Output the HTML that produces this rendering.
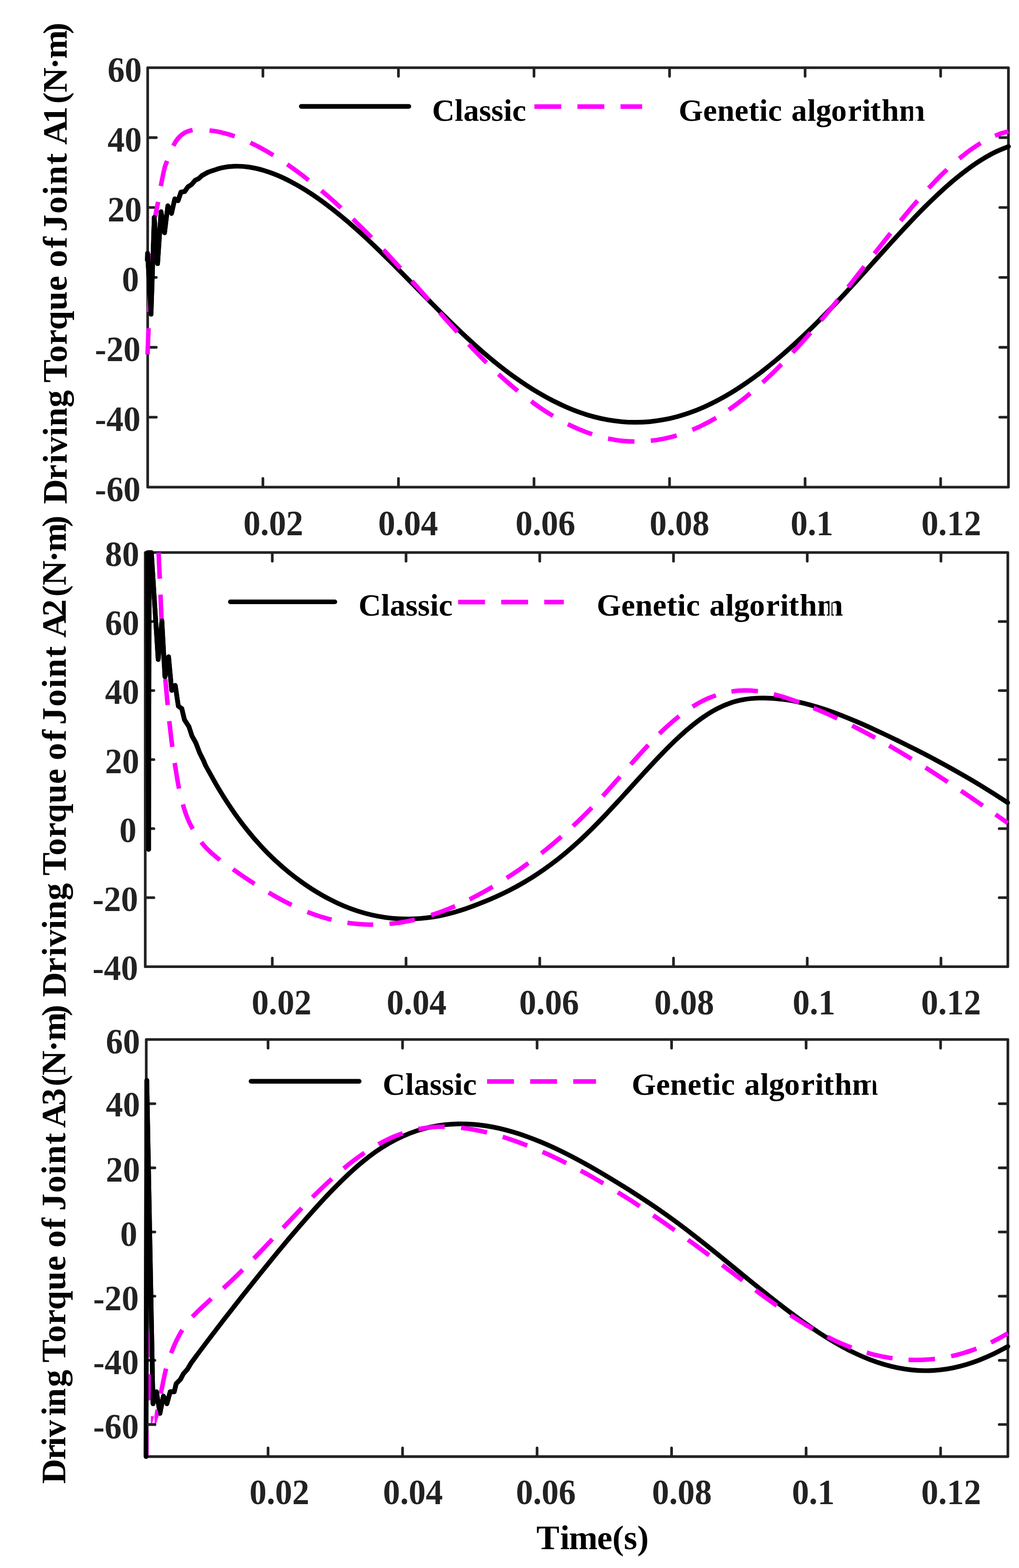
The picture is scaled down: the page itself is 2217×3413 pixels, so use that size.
<!DOCTYPE html>
<html lang="en"><head><meta charset="utf-8"><title>Driving torque of joints A1-A3: Classic vs Genetic algorithm</title>
<style>
html,body{margin:0;padding:0;background:#fff}
svg{display:block}
text{font-family:"Liberation Serif",serif;font-weight:bold}
.tk{font-size:75px;fill:#222222}
.lg{font-size:68px;fill:#000}
.lb{font-size:75px;fill:#000}
.ax{stroke:#222222;stroke-width:5.8;fill:none;stroke-linecap:round;stroke-linejoin:round}
.bk{stroke:#000;stroke-width:10.2;fill:none;stroke-linecap:round;stroke-linejoin:round}
.mg{stroke:#f0f;stroke-width:9.8;fill:none;stroke-linecap:butt;stroke-linejoin:round}
</style></head><body>
<svg width="2217" height="3413" viewBox="0 0 2217 3413">
<rect width="2217" height="3413" fill="#fff"/>
<defs>
<clipPath id="c0"><rect x="314.3" y="140.3" width="1886.7" height="927"/></clipPath>
<clipPath id="g0"><rect x="635.5" y="161.6" width="1464.5" height="120"/></clipPath>
<clipPath id="c1"><rect x="309" y="1195.6" width="1890.7" height="915.6"/></clipPath>
<clipPath id="g1"><rect x="481.2" y="1240" width="1618.8" height="120"/></clipPath>
<clipPath id="c2"><rect x="311.2" y="2255.6" width="1888.6" height="921.9"/></clipPath>
<clipPath id="g2"><rect x="526.2" y="2283.6" width="1573.8" height="120"/></clipPath>
</defs>
<g id="plot1">
<path class="ax" d="M321.3,147.3 H2194 V1060.3 H321.3 ZM572,1060.3 v-18.8 M572,147.3 v18.8M866.9,1060.3 v-18.8 M866.9,147.3 v18.8M1161.8,1060.3 v-18.8 M1161.8,147.3 v18.8M1456.7,1060.3 v-18.8 M1456.7,147.3 v18.8M1751.6,1060.3 v-18.8 M1751.6,147.3 v18.8M2046.5,1060.3 v-18.8 M2046.5,147.3 v18.8M321.3,299.5 h18.8 M2194,299.5 h-18.8M321.3,451.6 h18.8 M2194,451.6 h-18.8M321.3,603.8 h18.8 M2194,603.8 h-18.8M321.3,756 h18.8 M2194,756 h-18.8M321.3,908.1 h18.8 M2194,908.1 h-18.8"/>
<text class="tk" transform="translate(594.5,1164.8) scale(0.992,1.04)" text-anchor="middle">0.02</text>
<text class="tk" transform="translate(887.9,1164.8) scale(0.992,1.04)" text-anchor="middle">0.04</text>
<text class="tk" transform="translate(1186.6,1164.8) scale(0.992,1.04)" text-anchor="middle">0.06</text>
<text class="tk" transform="translate(1478.3,1164.8) scale(0.992,1.04)" text-anchor="middle">0.08</text>
<text class="tk" transform="translate(1766.5,1164.8) scale(0.992,1.04)" text-anchor="middle">0.1</text>
<text class="tk" transform="translate(2069.5,1164.8) scale(0.992,1.04)" text-anchor="middle">0.12</text>
<text class="tk" transform="translate(308.4,177.5) scale(0.992,1.04)" text-anchor="end">60</text>
<text class="tk" transform="translate(308.4,329.7) scale(0.992,1.04)" text-anchor="end">40</text>
<text class="tk" transform="translate(308.4,481.8) scale(0.992,1.04)" text-anchor="end">20</text>
<text class="tk" transform="translate(302.4,634) scale(0.992,1.04)" text-anchor="end">0</text>
<text class="tk" transform="translate(305.8,786.2) scale(0.992,1.04)" text-anchor="end">-20</text>
<text class="tk" transform="translate(305.8,938.3) scale(0.992,1.04)" text-anchor="end">-40</text>
<text class="tk" transform="translate(305.8,1090.5) scale(0.992,1.04)" text-anchor="end">-60</text>
<g clip-path="url(#c0)">
<path class="bk" d="M320.6,566L321,551.3L328.6,684L335.6,473.1L342.9,574L350.4,460.8L358,506.7L365.2,447.9L373.1,464.7L380.3,432.8L387.4,437L393.8,418L401.7,417L409,406.6L417,401.5L424.8,392.3L432,389L439.7,382L452.7,374.8C462.7,371.6 472.5,367.4 482.7,365.2C492.6,363 502.7,362 512.7,361.8C522.8,361.6 532.8,362.4 542.8,363.9C552.9,365.4 562.9,367.8 572.8,370.6C583,373.6 593,377.2 602.8,381.3C613,385.5 623,390.3 632.8,395.4C643.1,400.7 653.1,406.5 662.9,412.6C673.1,418.9 683.1,425.6 692.9,432.5C703.1,439.7 713.1,447.2 722.9,454.9C733.1,462.8 743.1,471.1 752.9,479.4C763.1,488 773.1,496.9 783,505.8C793.1,515 803.1,524.3 813,533.7C823.1,543.3 833.1,553.1 843,562.9C853.1,572.8 863.1,582.8 873,592.9C883.1,603 893.1,613.2 903.1,623.4C913.1,633.5 923,643.8 933.1,653.9C943.1,664 953,674.1 963.1,684.1C973.1,694 983,703.8 993.1,713.5C1003,723.1 1013,732.5 1023.2,741.8C1033,750.9 1043,759.8 1053.2,768.6C1063,777 1073,785.4 1083.2,793.4C1093.1,801.3 1103.1,808.9 1113.2,816.4C1123.1,823.5 1133.1,830.5 1143.3,837.2C1153.1,843.7 1163.1,850 1173.3,855.9C1183.1,861.7 1193.1,867.2 1203.3,872.4C1213.2,877.4 1223.2,882.2 1233.3,886.6C1243.2,890.8 1253.2,894.8 1263.4,898.3C1273.2,901.7 1283.3,904.8 1293.4,907.5C1303.3,910.1 1313.3,912.3 1323.4,914.1C1333.3,915.8 1343.4,917.2 1353.4,918C1363.4,918.9 1373.4,919.3 1383.4,919.2C1393.5,919.2 1403.5,918.7 1413.5,917.8C1423.5,916.8 1433.6,915.4 1443.5,913.6C1453.6,911.8 1463.6,909.5 1473.5,906.8C1483.6,904 1493.7,900.9 1503.5,897.3C1513.7,893.6 1523.7,889.6 1533.6,885.1C1543.7,880.6 1553.8,875.6 1563.6,870.3C1573.8,864.9 1583.8,859.1 1593.6,853.1C1603.8,846.8 1613.8,840.2 1623.6,833.5C1633.8,826.4 1643.8,819.2 1653.7,811.7C1663.8,803.9 1673.8,796 1683.7,787.9C1693.9,779.5 1703.8,770.9 1713.7,762.2C1723.9,753.2 1733.9,744 1743.7,734.8C1753.9,725.2 1763.9,715.6 1773.8,705.8C1783.9,695.8 1793.9,685.6 1803.8,675.4C1813.9,664.9 1823.9,654.4 1833.8,643.7C1843.9,632.9 1853.9,622 1863.8,611.1C1873.9,600 1883.9,588.9 1893.9,577.9C1903.9,566.8 1913.8,555.6 1923.9,544.5C1933.9,533.5 1943.8,522.5 1953.9,511.6C1963.8,500.8 1973.8,490.1 1983.9,479.5C1993.8,469.1 2003.8,458.8 2014,448.7C2023.8,438.9 2033.8,429.3 2044,419.8C2053.8,410.7 2063.8,401.8 2074,393.2C2083.8,384.9 2093.8,376.9 2104,369.3C2113.8,362 2123.8,355 2134.1,348.6C2143.8,342.5 2153.8,336.7 2164.1,331.6C2173.8,326.8 2184.1,323.1 2194.1,318.9"/>
<path class="mg" d="M321,771.4C321.7,752.4 322.5,733.3 323.2,714.3M324.3,679C325,660 325.7,641 326.5,622M328.3,584C328.6,578.7 329,573.3 329.3,568C329.6,562.7 329.7,557.3 330.2,552M337.8,472C339.1,461.1 342,450.4 344,439.5M349.9,405C352.4,391.7 354.9,378.3 358.2,365.1C359.5,360 361.7,355.2 363.6,350.3M377.2,317.3C380.1,311.3 383.6,305.5 388,300.5C392,295.9 396.9,291.8 402.2,288.8C407.4,285.9 413.2,284.3 419,283"/>
<path class="mg" d="M455.9,283.9C460.5,284.5 465.1,285 469.6,285.8C474.2,286.7 478.8,287.6 483.3,288.7C487.9,289.8 492.5,291 497,292.3C501.6,293.6 506.1,295.2 510.7,296.7M544.7,310.6C550.3,313.3 555.9,316 561.4,318.8C567,321.8 572.6,324.8 578.1,328C583.7,331.2 589.2,334.6 594.8,337.9M624.9,357.7C630.1,361.3 635.3,364.9 640.4,368.7C645.7,372.4 650.8,376.3 656,380.2C661.2,384.1 666.3,388.2 671.5,392.2M699.3,414.9C704,418.9 708.8,422.9 713.5,427C718.3,431.2 723.1,435.4 727.8,439.6C732.5,443.9 737.3,448.2 742,452.5M767.8,476.7C772.3,481.1 776.8,485.5 781.3,489.9C785.8,494.3 790.3,498.8 794.8,503.3C799.3,507.8 803.8,512.4 808.3,516.9M834.1,543.7C840.3,550.4 846.5,557 852.7,563.6C858.9,570.3 865.1,577.1 871.3,583.9M896.2,611.7C902.3,618.6 908.4,625.4 914.5,632.3C920.6,639.2 926.7,646.2 932.8,653.1M957,680.5C961.2,685.3 965.4,690 969.6,694.8C973.8,699.5 978,704.2 982.3,708.9C986.5,713.5 990.7,718.1 994.9,722.8M1019.8,749.7C1024.1,754.2 1028.4,758.7 1032.7,763.2C1037,767.7 1041.3,772.1 1045.7,776.5C1050,780.9 1054.3,785.1 1058.6,789.5M1084.5,814.3C1089.2,818.5 1093.8,822.8 1098.5,827C1103.2,831.2 1107.8,835.3 1112.6,839.3C1117.2,843.3 1121.9,847.1 1126.6,851M1155.7,873.6C1161,877.4 1166.2,881.3 1171.5,885C1176.8,888.6 1182,892.1 1187.4,895.6C1192.6,898.9 1197.9,902.1 1203.2,905.4M1235.5,923.2C1239.9,925.3 1244.3,927.5 1248.7,929.5C1253.1,931.5 1257.5,933.5 1261.9,935.3C1266.3,937.1 1270.7,938.9 1275.1,940.5C1279.5,942.2 1283.9,943.6 1288.3,945.2M1322.9,954.6C1327.7,955.5 1332.5,956.5 1337.3,957.3C1342,958.1 1346.8,958.7 1351.7,959.3C1356.4,959.8 1361.2,960.2 1366,960.5C1370.8,960.8 1375.6,960.9 1380.4,961.1M1416,959.4C1420.7,958.8 1425.4,958.3 1430.1,957.5C1434.8,956.8 1439.5,955.9 1444.2,955C1448.9,954 1453.6,952.9 1458.2,951.8C1462.9,950.6 1467.6,949.2 1472.3,947.9M1506.3,935.6C1512,933.1 1517.9,930.6 1523.5,927.9C1529.3,925.1 1535.1,922.2 1540.8,919.2C1546.6,916.1 1552.3,912.7 1558,909.5M1585.5,891.9C1590.7,888.2 1596,884.5 1601.1,880.7C1606.4,876.8 1611.6,872.8 1616.8,868.8C1622,864.6 1627.2,860.3 1632.4,856.1M1659.3,832.6C1663.9,828.3 1668.5,824.1 1673,819.8C1677.6,815.4 1682.2,811 1686.7,806.5C1691.3,802 1695.8,797.4 1700.4,792.8M1724.6,767.5C1728.9,762.8 1733.3,758.1 1737.5,753.4C1741.9,748.7 1746.2,743.9 1750.5,739C1754.8,734.1 1759.1,729.2 1763.4,724.3M1786.1,697.7C1792.3,690.2 1798.5,682.8 1804.7,675.3C1810.9,667.8 1817,660.1 1823.2,652.5M1845.2,625C1851.1,617.5 1857,610.1 1862.8,602.6C1868.7,595.1 1874.6,587.6 1880.5,580.1M1902.5,552.1C1908.3,544.6 1914.1,537.2 1920,529.8C1925.8,522.5 1931.6,515.1 1937.4,507.8M1959.3,480.6C1965.5,473.2 1971.5,465.7 1977.8,458.3C1983.8,451 1990,443.8 1996.2,436.6M2020.5,409.5C2024.9,404.8 2029.3,400 2033.8,395.3C2038.2,390.8 2042.6,386.3 2047.1,381.8C2051.5,377.4 2056,373.2 2060.4,368.9M2087,345.2C2092.2,341.1 2097.3,336.8 2102.5,332.8C2107.6,328.9 2112.8,325.1 2118.1,321.5C2123.2,318.1 2128.4,314.9 2133.6,311.5M2164.8,295.5C2169.7,293.7 2174.5,291.7 2179.4,290C2184.3,288.4 2189.2,287.3 2194.1,285.9"/>
<path class="bk" d="M320.6,566L321,551.3L328.6,684L335.6,473.1L342.9,574L350.4,460.8L358,506.7L365.2,447.9L373.1,464.7L380.3,432.8L387.4,437L393.8,418L401.7,417L409,406.6L417,401.5L424.8,392.3L432,389L439.7,382L452.7,374.8"/>
</g>
<path class="bk" style="stroke-width:10.2" d="M655.5,231.6 H889.5"/>
<path class="mg" style="stroke-width:10" stroke-dasharray="58.5 35.2" d="M1162.6,232 H1397"/>
<g clip-path="url(#g0)">
<text class="lg" x="940 989.19 1008.2 1042.3 1068.85 1095.42 1114.41" y="262.6">Classic</text>
<text class="lg" x="1476.5 1529.69 1560.16 1598.29 1628.76 1651.72 1670.91 1699.28 1721.68 1756.38 1774.97 1808.37 1844.57 1875.46 1893.85 1917.99 1955.92" y="262.6">Genetic algorithm</text>
</g>
<rect x="1986.4" y="226.6" width="5.4" height="40" fill="#fff"/>
<text class="lb" transform="translate(144.5,1097) rotate(-90)" x="0 52.49 88.1 109.27 147.1 168.28 210.31 245.83 264.22 308.04 346.22 378.84 421.24 463.62 492.52 515.27 556.77 573.73 592.48 632.08 671.68 694.63 738.43 755.02 781.92 828.08 871.38 895.87 946.32 969.14 1022.81" y="0">Driving Torque of Joint A1(N·m)</text>
</g>
<g id="plot2">
<path class="ax" d="M316,1202.6 H2192.7 V2104.2 H316 ZM592.4,2104.2 v-18.8 M592.4,1202.6 v18.8M883.4,2104.2 v-18.8 M883.4,1202.6 v18.8M1174.3,2104.2 v-18.8 M1174.3,1202.6 v18.8M1465.3,2104.2 v-18.8 M1465.3,1202.6 v18.8M1756.3,2104.2 v-18.8 M1756.3,1202.6 v18.8M2047.2,2104.2 v-18.8 M2047.2,1202.6 v18.8M316,1352.9 h18.8 M2192.7,1352.9 h-18.8M316,1503.1 h18.8 M2192.7,1503.1 h-18.8M316,1653.4 h18.8 M2192.7,1653.4 h-18.8M316,1803.7 h18.8 M2192.7,1803.7 h-18.8M316,1953.9 h18.8 M2192.7,1953.9 h-18.8"/>
<text class="tk" transform="translate(612.5,2207.5) scale(0.992,1.04)" text-anchor="middle">0.02</text>
<text class="tk" transform="translate(906.4,2207.5) scale(0.992,1.04)" text-anchor="middle">0.04</text>
<text class="tk" transform="translate(1194.7,2207.5) scale(0.992,1.04)" text-anchor="middle">0.06</text>
<text class="tk" transform="translate(1488.6,2207.5) scale(0.992,1.04)" text-anchor="middle">0.08</text>
<text class="tk" transform="translate(1770.9,2207.5) scale(0.992,1.04)" text-anchor="middle">0.1</text>
<text class="tk" transform="translate(2069.1,2207.5) scale(0.992,1.04)" text-anchor="middle">0.12</text>
<text class="tk" transform="translate(303,1231.8) scale(0.992,1.04)" text-anchor="end">80</text>
<text class="tk" transform="translate(303,1382.1) scale(0.992,1.04)" text-anchor="end">60</text>
<text class="tk" transform="translate(303,1532.3) scale(0.992,1.04)" text-anchor="end">40</text>
<text class="tk" transform="translate(303,1682.6) scale(0.992,1.04)" text-anchor="end">20</text>
<text class="tk" transform="translate(297,1832.9) scale(0.992,1.04)" text-anchor="end">0</text>
<text class="tk" transform="translate(300.4,1983.1) scale(0.992,1.04)" text-anchor="end">-20</text>
<text class="tk" transform="translate(300.4,2133.4) scale(0.992,1.04)" text-anchor="end">-40</text>
<g clip-path="url(#c1)">
<path class="bk" d="M321.3,1202.8L323.3,1849L324.6,1202.8L329.4,1202.8L344.1,1435.5L352.2,1351.4L358.9,1473.3L366.8,1429.6L373.5,1502.7L381.3,1491.8L388,1537.1L395.5,1542.2L401.3,1566.6L411,1581.5L417.7,1602L426.1,1617.1L434.5,1639L442.9,1655.8L447.1,1665.9C457.1,1683.7 466.7,1701.8 477.2,1719.2C486.7,1735.1 496.8,1750.6 507.3,1765.8C516.8,1779.7 526.9,1793.2 537.4,1806.3C547,1818.4 557,1830.1 567.5,1841.4C577.1,1851.9 587.2,1862 597.6,1871.8C607.3,1880.9 617.3,1889.6 627.7,1898.1C637.4,1906.1 647.5,1913.7 657.8,1921C667.5,1928 677.6,1934.6 687.8,1940.9C697.7,1946.9 707.7,1952.6 717.9,1957.8C727.8,1962.9 737.8,1967.6 748,1971.9C757.9,1976 767.9,1979.7 778.1,1983C788,1986.2 798.1,1989 808.2,1991.4C818.2,1993.7 828.2,1995.5 838.3,1997C848.3,1998.4 858.3,1999.3 868.4,1999.9C878.4,2000.4 888.5,2000.4 898.5,2000.1C908.6,1999.7 918.6,1998.9 928.6,1997.7C938.7,1996.5 948.7,1994.9 958.7,1992.9C968.8,1990.8 978.8,1988.4 988.8,1985.6C998.9,1982.7 1008.9,1979.5 1018.9,1976C1029,1972.5 1039,1968.6 1049,1964.6C1059.1,1960.6 1069.1,1956.3 1079.1,1951.8C1089.2,1947.3 1099.3,1942.6 1109.1,1937.5C1119.3,1932.3 1129.4,1926.8 1139.2,1921C1149.4,1915 1159.5,1908.8 1169.3,1902.2C1179.6,1895.4 1189.6,1888.4 1199.4,1881C1209.7,1873.4 1219.7,1865.5 1229.5,1857.3C1239.8,1848.8 1249.8,1840 1259.6,1831C1269.9,1821.6 1279.8,1811.9 1289.7,1802.1C1299.9,1791.9 1309.9,1781.5 1319.8,1771C1329.9,1760.3 1339.9,1749.4 1349.9,1738.6C1360,1727.6 1369.9,1716.5 1380,1705.5C1390,1694.5 1400,1683.4 1410.1,1672.5C1420,1661.8 1430,1651 1440.2,1640.6C1450,1630.4 1460,1620.3 1470.3,1610.6C1480,1601.4 1490,1592.3 1500.4,1583.7C1510.1,1575.7 1520,1567.9 1530.5,1560.7C1540.1,1554.1 1550.1,1547.9 1560.5,1542.5C1570.2,1537.5 1580.3,1533.1 1590.6,1529.6C1600.4,1526.3 1610.6,1524 1620.7,1522.3C1630.7,1520.6 1640.8,1519.9 1650.8,1519.5C1660.9,1519.1 1670.9,1519.4 1680.9,1520.1C1691,1520.7 1701,1521.9 1711,1523.3C1721.1,1524.8 1731.1,1526.8 1741.1,1529C1751.2,1531.2 1761.2,1533.9 1771.2,1536.8C1781.3,1539.7 1791.3,1542.9 1801.3,1546.3C1811.4,1549.8 1821.4,1553.5 1831.4,1557.4C1841.5,1561.4 1851.5,1565.5 1861.5,1569.8C1871.6,1574.1 1881.6,1578.5 1891.6,1583C1901.6,1587.6 1911.7,1592.3 1921.7,1597C1931.7,1601.7 1941.8,1606.5 1951.8,1611.4C1961.8,1616.3 1971.9,1621.2 1981.8,1626.3C1991.9,1631.3 2001.9,1636.4 2011.9,1641.6C2022,1646.8 2032,1652.1 2042,1657.5C2052.1,1662.9 2062.1,1668.4 2072.1,1674C2082.2,1679.7 2092.2,1685.4 2102.2,1691.2C2112.3,1697 2122.3,1703 2132.3,1709C2142.4,1715.2 2152.4,1721.4 2162.4,1727.7C2172.5,1734.1 2182.5,1740.6 2192.5,1747.1"/>
<path class="mg" d="M345.1,1202.7C345.9,1221.7 346.7,1240.8 347.6,1259.8M349.2,1294.3C350,1313.2 350.8,1332.1 351.6,1351M353.2,1387C354.2,1405.7 355.2,1424.3 356.5,1443M359.7,1478.3C361.4,1497.1 363,1515.8 364.8,1534.6M368.3,1569.6C370.4,1588.4 372.5,1607.2 374.9,1625.9M380.1,1660.8C383.1,1679.4 385.8,1698.1 389.5,1716.6M397.9,1750.8C400.7,1760.7 403.8,1770.6 407.6,1780.2C410.9,1788.6 414.9,1796.7 419.4,1804.5M437.9,1833.1C443.4,1840.4 449.8,1847 456.4,1853.3C463.3,1860 471.1,1865.8 478.4,1872"/>
<path class="mg" d="M506.9,1892C512.1,1895.7 517.3,1899.4 522.5,1903C527.7,1906.6 532.9,1910.1 538.2,1913.6C543.3,1917 548.6,1920.4 553.8,1923.8M584.5,1942.8C590.1,1946 595.6,1949.3 601.2,1952.4C606.7,1955.5 612.3,1958.5 617.9,1961.5C623.4,1964.4 629,1967.1 634.6,1969.9M668.6,1985C673,1986.6 677.4,1988.3 681.8,1989.9C686.1,1991.5 690.5,1993 695,1994.4C699.3,1995.8 703.7,1997.1 708.1,1998.3C712.5,1999.6 716.9,2000.6 721.3,2001.8M755.9,2008.6C760.6,2009.2 765.2,2009.9 769.9,2010.4C774.6,2010.9 779.2,2011.3 783.9,2011.7C788.6,2012 793.2,2012.3 797.9,2012.4C802.6,2012.6 807.2,2012.6 811.9,2012.6M847.4,2010.9C852,2010.4 856.6,2010 861.1,2009.4C865.7,2008.8 870.3,2008.1 874.9,2007.3C879.5,2006.6 884.1,2005.8 888.6,2004.8C893.2,2003.9 897.8,2002.9 902.4,2001.9M938,1992C943.8,1990.1 949.6,1988.2 955.4,1986.2C961.2,1984.1 967,1981.9 972.7,1979.6C978.6,1977.3 984.3,1974.8 990.1,1972.4M1021.5,1957.7C1027.1,1954.8 1032.8,1952 1038.3,1949C1044,1946 1049.6,1943 1055.2,1939.8C1060.8,1936.6 1066.4,1933.3 1072,1930.1M1102.4,1911.2C1107.6,1907.7 1112.9,1904.3 1118.1,1900.8C1123.4,1897.2 1128.7,1893.6 1133.9,1889.9C1139.1,1886.2 1144.4,1882.4 1149.6,1878.6M1177.7,1857.3C1182.6,1853.4 1187.4,1849.6 1192.3,1845.7C1197.2,1841.7 1202,1837.6 1206.8,1833.6C1211.7,1829.4 1216.5,1825.2 1221.4,1821M1246.6,1798.2C1251.2,1793.9 1255.8,1789.6 1260.3,1785.2C1264.9,1780.8 1269.5,1776.3 1274,1771.8C1278.6,1767.2 1283.1,1762.6 1287.7,1757.9M1311.3,1732.9C1315.5,1728.3 1319.7,1723.7 1323.9,1719C1328.1,1714.3 1332.3,1709.6 1336.5,1704.8C1340.7,1700.1 1344.9,1695.3 1349.1,1690.5M1372.4,1663.8C1376.6,1659 1380.9,1654.2 1385.1,1649.4C1389.4,1644.7 1393.6,1640 1397.9,1635.3C1402.1,1630.7 1406.4,1626.2 1410.6,1621.6M1434.7,1597C1439.5,1592.4 1444.2,1587.8 1449,1583.4C1453.7,1579.1 1458.5,1574.8 1463.3,1570.6C1468,1566.6 1472.8,1562.8 1477.6,1558.9M1506.7,1538.1C1512.3,1534.9 1517.9,1531.4 1523.6,1528.3C1529.2,1525.4 1534.8,1522.6 1540.6,1520.1C1546.1,1517.7 1551.9,1515.7 1557.5,1513.5M1591.4,1505.1C1596.2,1504.6 1601,1503.8 1605.8,1503.4C1610.6,1503 1615.4,1502.8 1620.2,1502.8C1625,1502.7 1629.8,1502.9 1634.6,1503.2C1639.4,1503.5 1644.2,1504.1 1649,1504.6M1683.6,1511.2C1688.2,1512.5 1692.8,1513.6 1697.3,1514.9C1702,1516.3 1706.5,1517.7 1711.1,1519.2C1715.7,1520.7 1720.3,1522.2 1724.8,1523.8C1729.5,1525.4 1734,1527.1 1738.6,1528.8M1769.9,1541C1775.7,1543.4 1781.4,1545.8 1787.2,1548.3C1792.9,1550.8 1798.7,1553.3 1804.4,1555.9C1810.2,1558.5 1815.9,1561.2 1821.7,1563.8M1854,1579.5C1859.6,1582.4 1865.1,1585.2 1870.7,1588C1876.2,1590.9 1881.8,1593.9 1887.3,1596.8C1892.9,1599.8 1898.4,1602.9 1904,1605.9M1934.4,1623C1939.9,1626.1 1945.3,1629.3 1950.8,1632.5C1956.2,1635.7 1961.7,1639 1967.1,1642.2C1972.6,1645.5 1978,1648.8 1983.5,1652.1M2013.6,1670.9C2019,1674.3 2024.4,1677.7 2029.8,1681.2C2035.2,1684.6 2040.6,1688.1 2045.9,1691.6C2051.3,1695.1 2056.7,1698.7 2062.1,1702.2M2090.9,1721.3C2096.2,1724.9 2101.4,1728.4 2106.7,1732C2112,1735.6 2117.2,1739.2 2122.5,1742.8C2127.8,1746.4 2133,1750 2138.3,1753.6M2166,1772.8C2170.4,1775.9 2174.8,1779 2179.2,1782.1C2183.7,1785.2 2188.1,1788.3 2192.5,1791.4"/>
<path class="bk" d="M321.3,1202.8L323.3,1849L324.6,1202.8L329.4,1202.8L344.1,1435.5L352.2,1351.4L358.9,1473.3L366.8,1429.6L373.5,1502.7L381.3,1491.8L388,1537.1L395.5,1542.2L401.3,1566.6L411,1581.5L417.7,1602L426.1,1617.1L434.5,1639L442.9,1655.8L447.1,1665.9"/>
</g>
<path class="bk" style="stroke-width:10.2" d="M501.2,1310 H728.5"/>
<path class="mg" style="stroke-width:10" stroke-dasharray="58.5 35.2" d="M996.7,1310.4 H1226.7"/>
<g clip-path="url(#g1)">
<text class="lg" x="780 829.19 848.2 882.3 908.85 935.42 954.41" y="1340">Classic</text>
<text class="lg" x="1298.3 1351.49 1381.96 1420.09 1450.56 1473.52 1492.71 1521.08 1543.48 1578.18 1596.77 1630.17 1666.37 1697.26 1715.65 1739.79 1777.72" y="1340">Genetic algorithm</text>
</g>
<rect x="1804.6" y="1304" width="4.5" height="40" fill="#fff"/>
<text class="lb" transform="translate(142.6,2170) rotate(-90)" x="0 52.49 88.1 109.27 147.1 168.28 210.31 245.83 264.22 308.04 346.22 378.84 421.24 463.62 492.52 515.27 556.77 573.73 592.48 632.08 671.68 694.63 738.43 755.02 781.92 828.08 871.38 895.87 946.32 969.14 1022.81" y="0">Driving Torque of Joint A2(N·m)</text>
</g>
<g id="plot3">
<path class="ax" d="M318.2,2262.6 H2192.8 V3170.5 H318.2 ZM583.2,3170.5 v-18.8 M583.2,2262.6 v18.8M875.8,3170.5 v-18.8 M875.8,2262.6 v18.8M1168.5,3170.5 v-18.8 M1168.5,2262.6 v18.8M1461.1,3170.5 v-18.8 M1461.1,2262.6 v18.8M1753.8,3170.5 v-18.8 M1753.8,2262.6 v18.8M2046.4,3170.5 v-18.8 M2046.4,2262.6 v18.8M318.2,2402.3 h18.8 M2192.8,2402.3 h-18.8M318.2,2542 h18.8 M2192.8,2542 h-18.8M318.2,2681.6 h18.8 M2192.8,2681.6 h-18.8M318.2,2821.3 h18.8 M2192.8,2821.3 h-18.8M318.2,2961 h18.8 M2192.8,2961 h-18.8M318.2,3100.7 h18.8 M2192.8,3100.7 h-18.8"/>
<text class="tk" transform="translate(607.8,3274) scale(0.992,1.04)" text-anchor="middle">0.02</text>
<text class="tk" transform="translate(898.4,3274) scale(0.992,1.04)" text-anchor="middle">0.04</text>
<text class="tk" transform="translate(1187.6,3274) scale(0.992,1.04)" text-anchor="middle">0.06</text>
<text class="tk" transform="translate(1483.6,3274) scale(0.992,1.04)" text-anchor="middle">0.08</text>
<text class="tk" transform="translate(1769.4,3274) scale(0.992,1.04)" text-anchor="middle">0.1</text>
<text class="tk" transform="translate(2069.4,3274) scale(0.992,1.04)" text-anchor="middle">0.12</text>
<text class="tk" transform="translate(304.6,2292.8) scale(0.992,1.04)" text-anchor="end">60</text>
<text class="tk" transform="translate(304.6,2429.5) scale(0.992,1.04)" text-anchor="end">40</text>
<text class="tk" transform="translate(304.6,2572.2) scale(0.992,1.04)" text-anchor="end">20</text>
<text class="tk" transform="translate(298.6,2711.8) scale(0.992,1.04)" text-anchor="end">0</text>
<text class="tk" transform="translate(302,2851.5) scale(0.992,1.04)" text-anchor="end">-20</text>
<text class="tk" transform="translate(302,2991.2) scale(0.992,1.04)" text-anchor="end">-40</text>
<text class="tk" transform="translate(302,3130.9) scale(0.992,1.04)" text-anchor="end">-60</text>
<g clip-path="url(#c2)">
<path class="bk" d="M317.8,3170.3L319.4,2351.7L332.9,3055.5L340.4,3029.4L348,3076.5L355.5,3038.7L363.1,3055.5L370.3,3029.4L379.1,3029.4L383.3,3011.8L392.5,3002.5L399.2,2989.9L407.6,2980.7L416.1,2966.4L427.8,2950.4C437.8,2937.2 447.7,2923.9 457.7,2910.7C467.6,2897.6 477.6,2884.6 487.6,2871.7C497.6,2858.8 507.5,2846.1 517.5,2833.3C527.5,2820.7 537.4,2808.1 547.5,2795.5C557.4,2783 567.3,2770.6 577.4,2758.2C587.3,2746 597.2,2733.8 607.3,2721.6C617.2,2709.7 627.1,2697.7 637.2,2685.9C647.1,2674.3 657,2662.7 667.1,2651.3C677,2640.1 686.9,2629 697,2618C706.9,2607.3 716.8,2596.7 727,2586.4C736.7,2576.4 746.7,2566.5 756.9,2557C766.6,2547.9 776.5,2539 786.8,2530.5C796.5,2522.4 806.4,2514.7 816.7,2507.4C826.4,2500.6 836.4,2494.2 846.6,2488.3C856.3,2482.8 866.3,2477.7 876.5,2473.1C886.3,2468.7 896.3,2464.8 906.4,2461.5C916.3,2458.2 926.3,2455.5 936.4,2453.3C946.2,2451.1 956.2,2449.5 966.3,2448.3C976.2,2447.1 986.2,2446.5 996.2,2446.3C1006.2,2446.1 1016.2,2446.4 1026.1,2447.1C1036.1,2447.7 1046.1,2448.9 1056,2450.4C1066.1,2451.9 1076,2453.8 1085.9,2456C1096,2458.3 1106,2461 1115.9,2463.9C1125.9,2466.8 1135.9,2470.1 1145.8,2473.7C1155.8,2477.3 1165.8,2481.2 1175.7,2485.3C1185.7,2489.4 1195.7,2493.8 1205.6,2498.4C1215.7,2503.1 1225.6,2508 1235.5,2513C1245.6,2518.1 1255.5,2523.4 1265.4,2528.8C1275.5,2534.3 1285.4,2539.9 1295.3,2545.6C1305.4,2551.4 1315.3,2557.3 1325.3,2563.3C1335.3,2569.3 1345.2,2575.5 1355.2,2581.7C1365.2,2587.9 1375.2,2594.2 1385.1,2600.6C1395.1,2607.1 1405.1,2613.6 1415,2620.3C1425,2627 1435,2633.9 1444.9,2640.9C1455,2648 1464.9,2655.2 1474.8,2662.5C1484.9,2669.9 1494.8,2677.5 1504.7,2685.2C1514.8,2692.9 1524.7,2700.8 1534.7,2708.7C1544.7,2716.7 1554.6,2724.7 1564.6,2732.8C1574.6,2740.9 1584.5,2749.1 1594.5,2757.2C1604.5,2765.4 1614.4,2773.6 1624.4,2781.7C1634.4,2789.8 1644.3,2797.9 1654.3,2806C1664.3,2814 1674.2,2821.9 1684.2,2829.8C1694.2,2837.6 1704.1,2845.3 1714.2,2852.9C1724,2860.3 1734,2867.7 1744.1,2874.9C1753.9,2881.9 1763.9,2888.9 1774,2895.6C1783.8,2902.1 1793.8,2908.6 1803.9,2914.7C1813.7,2920.7 1823.7,2926.5 1833.8,2931.9C1843.6,2937.3 1853.6,2942.3 1863.7,2947C1873.6,2951.6 1883.5,2955.9 1893.6,2959.7C1903.5,2963.5 1913.5,2966.9 1923.6,2969.9C1933.4,2972.8 1943.4,2975.3 1953.5,2977.3C1963.4,2979.3 1973.4,2980.8 1983.4,2981.9C1993.3,2982.9 2003.3,2983.5 2013.3,2983.5C2023.3,2983.5 2033.3,2983 2043.2,2982C2053.3,2981 2063.3,2979.4 2073.1,2977.4C2083.2,2975.4 2093.2,2972.8 2103.1,2969.8C2113.2,2966.8 2123.1,2963.3 2133,2959.4C2143.1,2955.4 2153.1,2951 2162.9,2946.4C2173,2941.5 2182.8,2936 2192.8,2930.8"/>
<path class="mg" d="M349.7,3033.6C353.6,3015.4 356.8,2997 361.4,2979M372.4,2945.4C375.6,2936.8 379,2928.3 383,2920C387.1,2911.4 391.4,2902.9 396.7,2895M418.6,2866.4C431.5,2852.5 446,2840.1 459.7,2826.9"/>
<path class="mg" d="M485.9,2804.1C490.6,2799.8 495.3,2795.6 499.9,2791.2C504.6,2786.8 509.3,2782.3 513.9,2777.8C518.6,2773.3 523.2,2768.7 527.9,2764.1M552.2,2739.5C556.7,2734.8 561.2,2730.2 565.7,2725.5C570.2,2720.8 574.7,2716.1 579.1,2711.4C583.6,2706.6 588.1,2701.9 592.6,2697.1M615.9,2672.4C620.4,2667.6 624.9,2662.8 629.5,2658.1C634,2653.3 638.5,2648.6 643,2643.8C647.5,2639.1 652.1,2634.4 656.6,2629.7M679.9,2606C684.6,2601.4 689.2,2596.8 693.9,2592.2C698.6,2587.7 703.3,2583.2 708,2578.7C712.6,2574.4 717.3,2570.1 722,2565.8M747.8,2543.3C752.8,2539.3 757.8,2535.1 762.9,2531.2C767.9,2527.3 772.9,2523.5 778,2519.8C783,2516.2 788.1,2512.7 793.1,2509.2M823.2,2490.7C827.6,2488.3 832,2485.9 836.5,2483.6C840.8,2481.4 845.2,2479.3 849.7,2477.3C854.1,2475.3 858.5,2473.4 863,2471.7C867.3,2469.9 871.8,2468.4 876.2,2466.8M910.2,2457.7C915,2456.9 919.7,2456 924.5,2455.3C929.3,2454.6 934.1,2454.1 938.9,2453.6C943.6,2453.2 948.4,2452.9 953.2,2452.7C957.9,2452.5 962.7,2452.6 967.5,2452.5M1003.1,2454.7C1007.8,2455.3 1012.5,2455.8 1017.2,2456.5C1022,2457.2 1026.7,2458.1 1031.4,2458.9C1036.1,2459.8 1040.8,2460.8 1045.5,2461.8C1050.3,2462.8 1055,2464 1059.7,2465.1M1093.6,2474.6C1098,2476 1102.5,2477.4 1106.9,2478.9C1111.4,2480.4 1115.9,2481.9 1120.3,2483.5C1124.8,2485 1129.2,2486.6 1133.7,2488.3C1138.1,2490 1142.5,2491.7 1147,2493.4M1180.3,2507.2C1186,2509.8 1191.8,2512.3 1197.5,2515C1203.3,2517.6 1209,2520.4 1214.8,2523.1C1220.5,2525.9 1226.3,2528.8 1232,2531.6M1263.4,2548.1C1268.9,2551.1 1274.4,2554 1279.8,2557.1C1285.3,2560.1 1290.8,2563.2 1296.2,2566.4C1301.7,2569.5 1307.1,2572.7 1312.6,2575.9M1344.3,2595.2C1349.6,2598.5 1354.9,2601.8 1360.1,2605.1C1365.4,2608.4 1370.7,2611.8 1376,2615.2C1381.3,2618.7 1386.5,2622.1 1391.8,2625.6M1421.2,2645.3C1426.4,2648.8 1431.6,2652.4 1436.8,2655.9C1442,2659.5 1447.2,2663.1 1452.3,2666.8C1457.5,2670.4 1462.7,2674.1 1467.9,2677.7M1497,2698.6C1502.1,2702.3 1507.2,2706 1512.3,2709.8C1517.4,2713.5 1522.5,2717.2 1527.6,2721C1532.7,2724.8 1537.8,2728.6 1542.9,2732.3M1571.4,2753.7C1576.3,2757.4 1581.2,2761.1 1586.2,2764.9C1591.1,2768.6 1596,2772.3 1600.9,2776.1C1605.9,2779.8 1610.8,2783.5 1615.7,2787.2M1643.8,2808.3C1648.9,2812.1 1654.1,2816 1659.2,2819.7C1664.4,2823.5 1669.5,2827.3 1674.7,2831C1679.8,2834.7 1685,2838.3 1690.1,2842M1719.8,2862.4C1725.2,2865.9 1730.6,2869.5 1736.1,2873C1741.5,2876.4 1746.9,2879.9 1752.3,2883.2C1757.7,2886.5 1763.2,2889.6 1768.6,2892.9M1800,2910C1804.4,2912.1 1808.8,2914.3 1813.2,2916.4C1817.5,2918.5 1821.9,2920.5 1826.3,2922.5C1830.7,2924.4 1835.1,2926.3 1839.5,2928.1C1843.9,2929.9 1848.3,2931.6 1852.7,2933.3M1885.8,2944.3C1890.5,2945.6 1895.1,2947 1899.8,2948.2C1904.5,2949.3 1909.2,2950.4 1913.9,2951.5C1918.6,2952.5 1923.3,2953.4 1928,2954.2C1932.6,2955.1 1937.3,2955.8 1942,2956.5M1976.6,2959.8C1981.4,2959.9 1986.2,2960.1 1991,2960.2C1995.8,2960.2 2000.6,2960.1 2005.4,2960C2010.3,2959.8 2015.1,2959.5 2019.9,2959.2C2024.7,2958.8 2029.5,2958.3 2034.3,2957.8M2069.4,2952C2074,2950.9 2078.6,2949.9 2083.2,2948.7C2087.8,2947.5 2092.3,2946.3 2096.9,2944.9C2101.5,2943.5 2106.1,2942.1 2110.7,2940.5C2115.3,2938.9 2119.8,2937.2 2124.4,2935.6M2156,2922C2162.1,2918.9 2168.3,2915.9 2174.4,2912.7C2180.6,2909.4 2186.7,2905.8 2192.8,2902.3"/>
<path class="bk" d="M317.8,3170.3L319.4,2351.7L332.9,3055.5L340.4,3029.4L348,3076.5L355.5,3038.7L363.1,3055.5L370.3,3029.4L379.1,3029.4L383.3,3011.8L392.5,3002.5L399.2,2989.9L407.6,2980.7L416.1,2966.4L427.8,2950.4"/>
<polygon fill="#f0f" points="323.3,2900.8 325.6,2900.8 326.2,2954.6 323.3,2954.6"/>
<polygon fill="#f0f" points="323,2991 328.2,2991 328.2,3010 327.5,3048 323,3048"/>
<polygon fill="#f0f" points="328.2,3082.5 335.3,3082.5 329.6,3104 328.4,3103.5"/>
<polygon fill="#f0f" points="338.2,3067.8 342.9,3068.3 345.4,3080.8 338,3104.6 336.3,3103 336.1,3080.8"/>
<polygon fill="#f0f" points="322.4,3114 323.7,3114 323.5,3169 322.4,3169"/>
</g>
<path class="ax" d="M322.2,3100.7 h14.8"/>
<path class="bk" style="stroke-width:10.2" d="M546.2,2353.6 H781.4"/>
<path class="mg" style="stroke-width:10" stroke-dasharray="58.5 35.2" d="M1059.7,2354 H1296.7"/>
<g clip-path="url(#g2)">
<text class="lg" x="832.5 881.69 900.7 934.8 961.35 987.92 1006.91" y="2383.3">Classic</text>
<text class="lg" x="1374.3 1427.49 1457.96 1496.09 1526.56 1549.52 1568.71 1597.08 1619.48 1654.18 1672.77 1706.17 1742.37 1773.26 1791.65 1815.79 1853.72" y="2383.3">Genetic algorithm</text>
</g>
<rect x="1894.5" y="2347.3" width="4.5" height="40" fill="#fff"/>
<text class="lb" transform="translate(142.4,3229.5) rotate(-90)" x="0 52.03 80.98 101.39 147.56 166.38 210.45 245.83 263.72 307.54 345.72 378.34 420.74 463.12 492.52 514.07 553.77 573.73 594.08 633.28 672.48 695.03 738.43 755.02 774.62 823.28 865.08 888.57 940.02 963.74 1017.41" y="0">Driving Torque of Joint A3(N·m)</text>
</g>
<text class="lb" x="1167 1218.46 1237.7 1298.97 1332.27 1357.23 1386.42" y="3372.2">Time(s)</text>
</svg></body></html>
